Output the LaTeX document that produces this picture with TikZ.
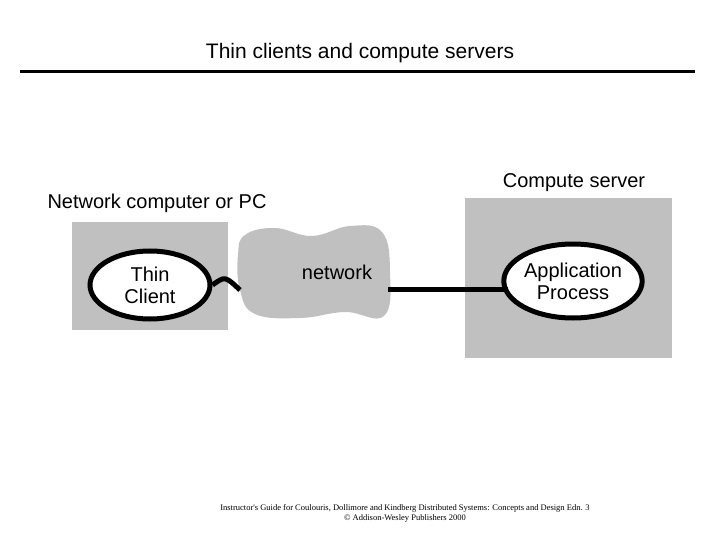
\documentclass[tikz,border=0pt]{standalone}
\usepackage{fontspec}
\setmainfont{Liberation Sans}
\newfontfamily\footfont{Liberation Serif}
\usetikzlibrary{shapes.geometric}
\definecolor{boxgray}{HTML}{C0C0C0}
\begin{document}
\begin{tikzpicture}[x=1pt,y=-1pt,thick,
    proc node/.style={ellipse,draw,line width=5pt,fill=white,inner sep=0pt,font=\fontsize{20}{22}\selectfont,align=center},
    label node/.style={font=\fontsize{20}{22}\selectfont},
    link/.style={line width=5pt}]
  \useasboundingbox (0,0) rectangle (720,540);
  \node[font=\fontsize{21}{24}\selectfont] at (360,53) (title) {Thin clients and compute servers};
  \draw[line width=3pt] (20,72) -- (695,72);

  \fill[boxgray] (72,222) rectangle (228,330);
  \fill[boxgray] (465,198) rectangle (672,358);
  \node[label node] at (157,203) (pc) {Network computer or PC};
  \node[label node] at (574,183) (cs) {Compute server};

  % network cloud
  \fill[boxgray] plot[smooth cycle,tension=0.7] coordinates {(245,235) (275,228) (312,236) (350,226) (382,232) (390,272) (384,316) (345,312) (300,318) (255,314) (240,290) (238,255)};
  \node[label node] at (337,272) (net) {network};
  \coordinate (netw) at (240,290);
  \coordinate (nete) at (388,289);

  \node[proc node,minimum width=120pt,minimum height=68pt] at (150,285) (tc) {Thin\\Client};
  \node[proc node,minimum width=134pt,minimum height=74pt] at (573,281) (ap) {Application\\Process};

  \draw[link] (tc.east) .. controls (225,276) .. (netw);
  \draw[link] (nete) -- (508,289);

  \node[font=\footfont\fontsize{8.5}{10}\selectfont,align=center] at (405,513) (foot) {Instructor's Guide for Coulouris, Dollimore and Kindberg Distributed Systems: Concepts and Design Edn. 3\\© Addison-Wesley Publishers 2000};
\end{tikzpicture}
\end{document}
